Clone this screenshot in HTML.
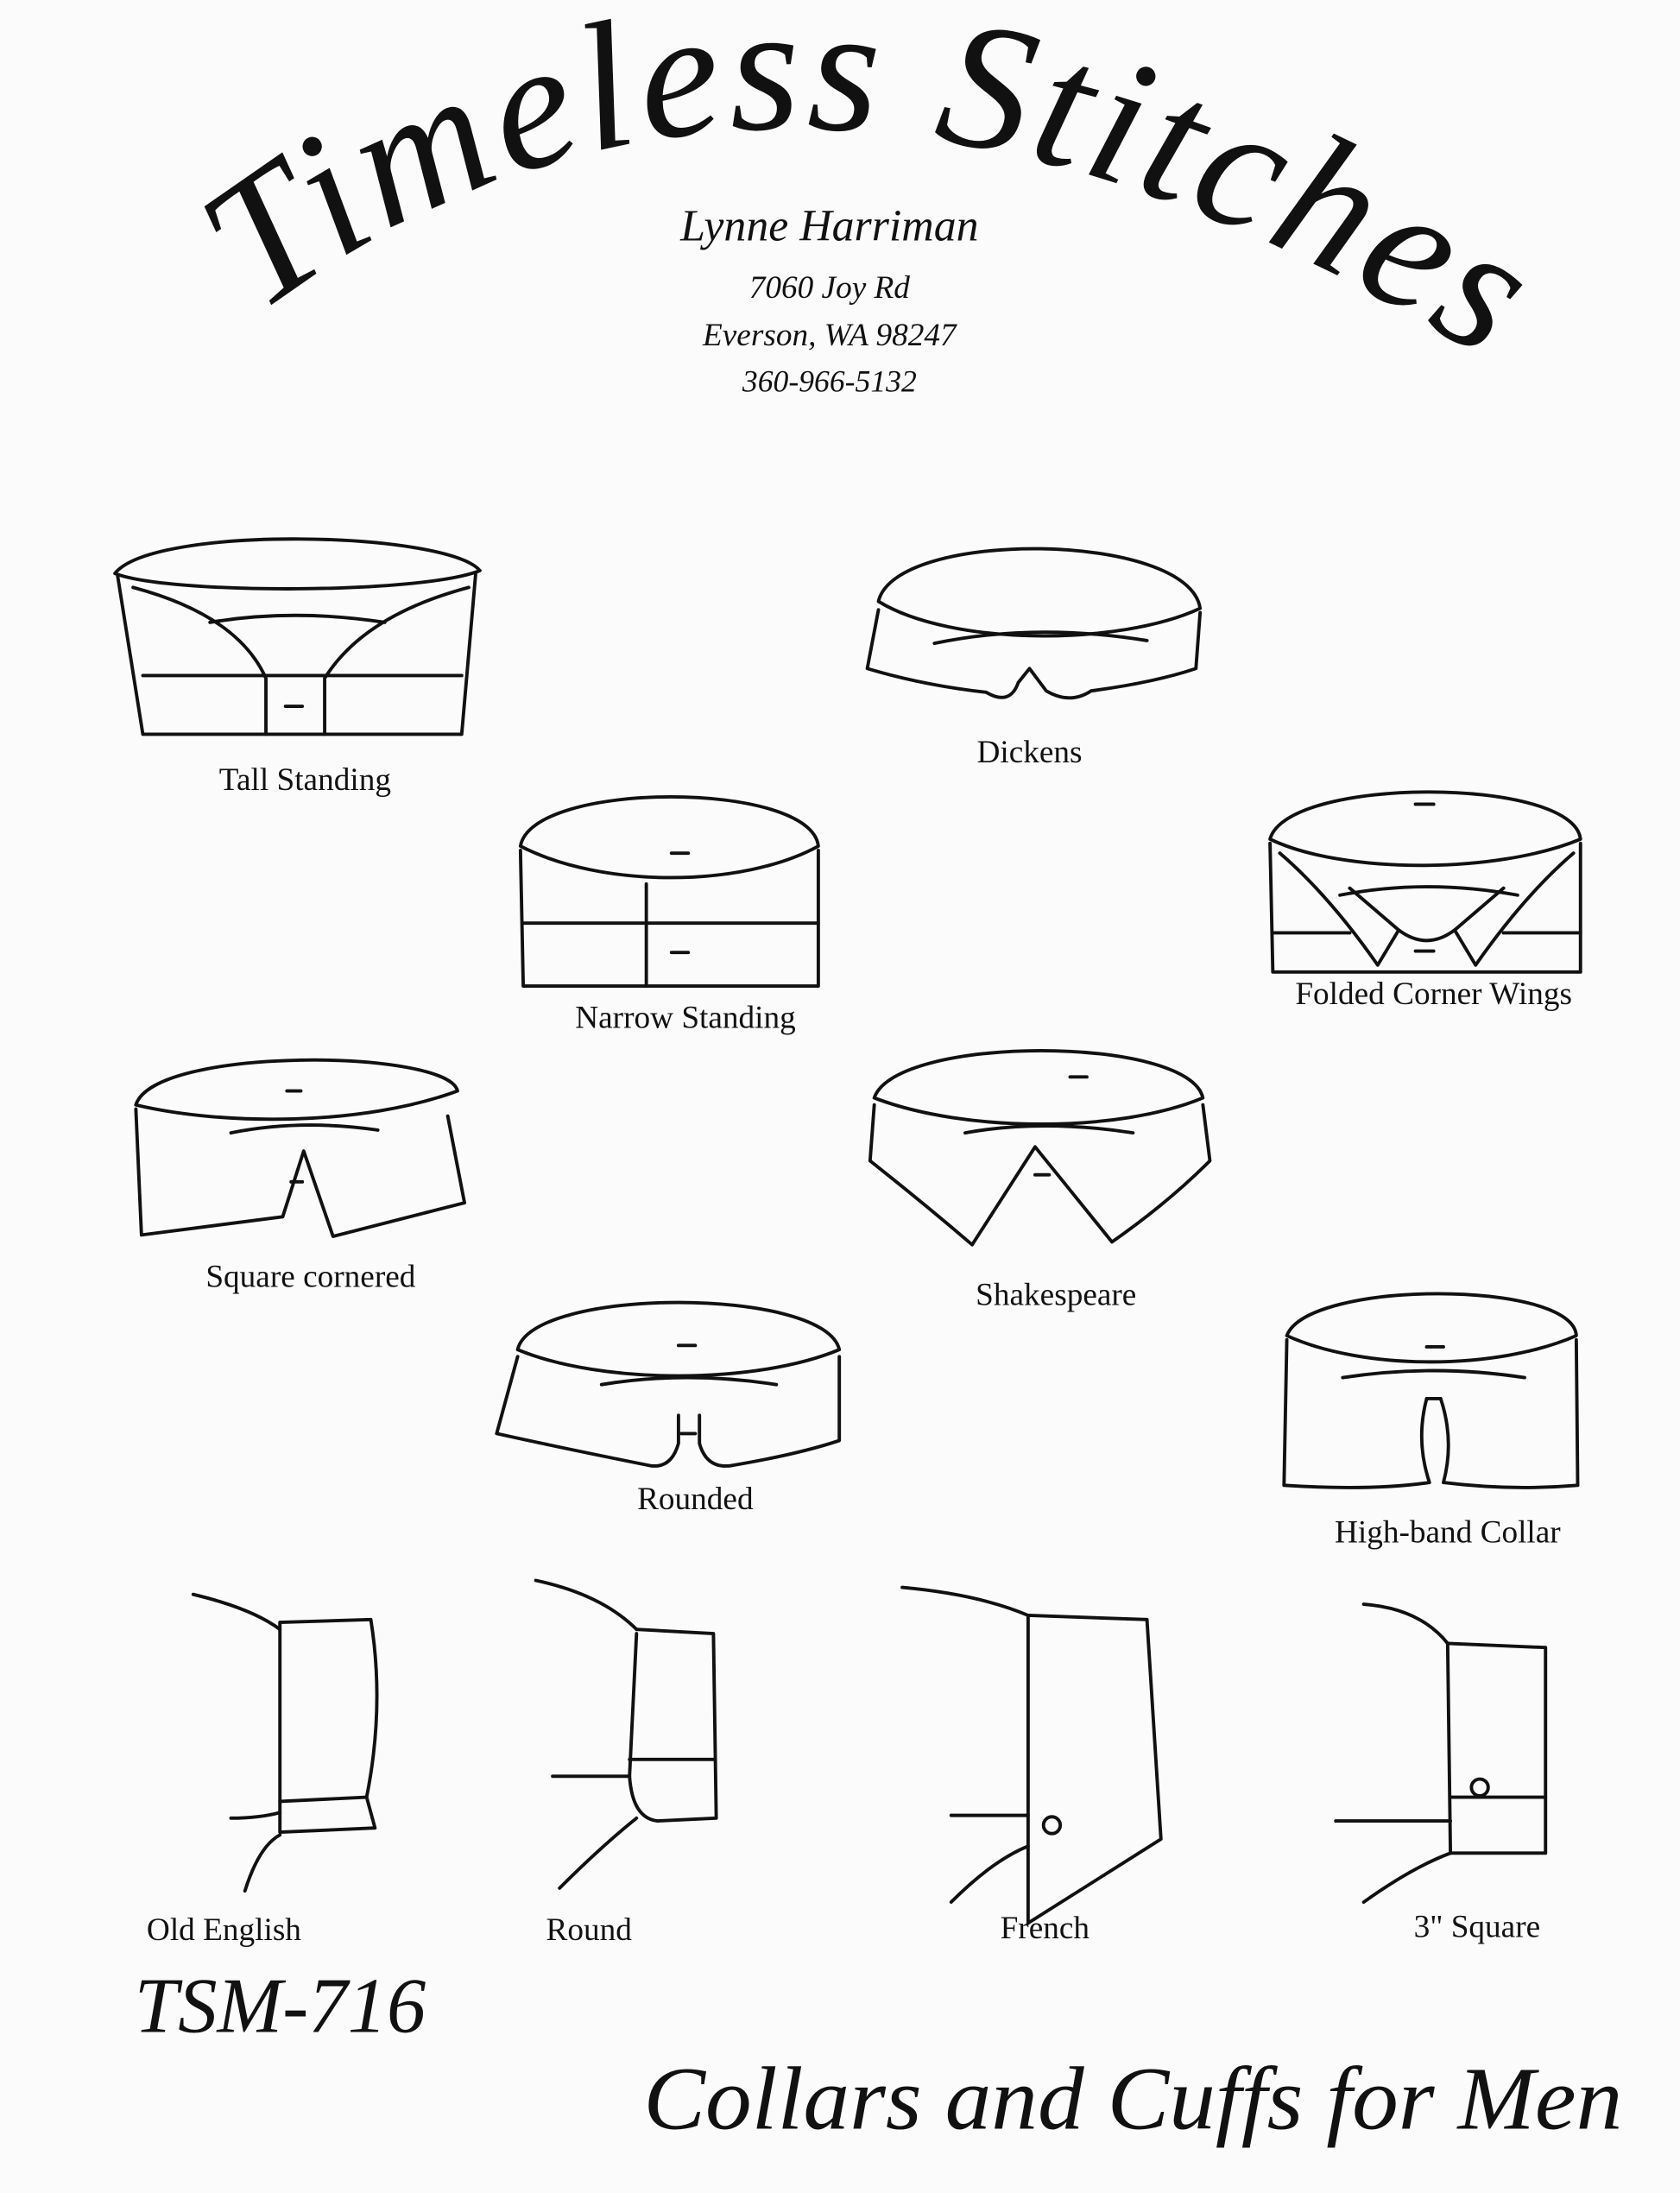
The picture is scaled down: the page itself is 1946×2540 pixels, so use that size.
<!DOCTYPE html>
<html><head><meta charset="utf-8"><style>
html,body{margin:0;padding:0;background:#fbfbfb;}
svg{display:block}
.s{fill:none;stroke:#111;stroke-width:2.4;stroke-linecap:round;stroke-linejoin:round}
.l{font-family:"Liberation Serif",serif;font-size:23px;fill:#111;text-anchor:middle}
.i{font-family:"Liberation Serif",serif;font-style:italic;fill:#111;text-anchor:middle}
</style></head><body>
<svg width="1946" height="2540" viewBox="0 0 1201 1568" xmlns="http://www.w3.org/2000/svg">
<rect width="1201" height="1568" fill="#fbfbfb"/>
<defs><path id="arc" d="M 185 225 Q 560 -60 1075 265"/></defs>
<text class="i" style="font-size:130px;text-anchor:start"><textPath href="#arc" textLength="940" lengthAdjust="spacing">Timeless Stitches</textPath></text>
<text class="i" x="593" y="172" style="font-size:32px">Lynne Harriman</text>
<text class="i" x="593" y="213" style="font-size:23px">7060 Joy Rd</text>
<text class="i" x="593" y="247" style="font-size:23px">Everson, WA 98247</text>
<text class="i" x="593" y="280" style="font-size:22px">360-966-5132</text>

<g class="s">
<!-- Tall Standing -->
<path d="M82 410 C110 375 320 380 343 408 C300 425 120 425 82 410 Z"/>
<path d="M84 412 L102 525 L330 525 L340 410"/>
<path d="M102 483 L330 483"/>
<path d="M150 445 Q210 435 275 445"/>
<path d="M95 420 Q170 440 190 485 L190 525 M335 420 Q260 440 232 485 L232 525"/>
<path d="M204 505 L216 505"/>
<!-- Dickens -->
<path d="M628 430 C640 378 850 380 858 435 C800 462 680 462 628 430 Z"/>
<path d="M628 436 L620 478 Q660 490 705 495 Q722 505 728 488 L736 478 L748 494 Q765 504 780 494 Q825 488 855 478 L858 438"/>
<path d="M668 460 Q740 445 820 458"/>
<!-- Narrow Standing -->
<path d="M372 605 C380 558 580 558 585 605 C530 635 430 635 372 605 Z"/>
<path d="M372 608 L374 705 L585 705 L585 608"/>
<path d="M374 660 L585 660 M462 632 L462 705"/>
<path d="M480 610 L492 610 M480 681 L492 681"/>
<!-- Folded Corner Wings -->
<path d="M908 600 C920 555 1125 555 1130 600 C1070 625 960 625 908 600 Z"/>
<path d="M908 603 L910 695 L1130 695 L1130 603"/>
<path d="M910 667 L965 667 M1075 667 L1130 667"/>
<path d="M958 640 Q1020 628 1085 640"/>
<path d="M915 610 Q950 640 985 690 L1000 665 L965 635 M1125 610 Q1090 640 1055 690 L1040 665 L1075 635"/>
<path d="M1000 665 Q1020 680 1040 665 M1012 680 L1025 680 M1012 575 L1025 575"/>
<!-- Square cornered -->
<path d="M97 790 C110 748 320 750 327 780 C260 805 160 805 97 790 Z"/>
<path d="M97 793 L101 883 L202 870 L217 823 L238 884 L332 860 L320 798"/>
<path d="M165 810 Q215 800 270 808 M205 780 L215 780 M208 845 L216 845"/>
<!-- Shakespeare -->
<path d="M625 785 C640 740 850 740 860 785 C800 810 690 810 625 785 Z"/>
<path d="M625 790 L622 830 Q660 860 695 890 L740 820 L795 888 Q835 860 865 830 L860 790"/>
<path d="M690 810 Q745 800 810 810 M765 770 L777 770 M740 840 L750 840"/>
<!-- Rounded -->
<path d="M370 965 C380 920 590 920 600 965 C540 990 430 990 370 965 Z"/>
<path d="M370 970 L355 1025 Q400 1035 465 1048 Q480 1050 485 1032 L485 1012 M500 1012 L500 1032 Q505 1050 522 1048 Q570 1040 600 1030 L600 970"/>
<path d="M430 990 Q490 980 555 990 M485 962 L497 962 M487 1025 L497 1025"/>
<!-- High-band -->
<path d="M920 955 C935 915 1125 915 1127 955 C1070 980 975 980 920 955 Z"/>
<path d="M920 958 L918 1062 Q980 1066 1022 1060 Q1012 1030 1020 1000 M1030 1000 Q1040 1030 1032 1060 Q1080 1066 1128 1062 L1127 958"/>
<path d="M960 985 Q1025 975 1090 985 M1020 963 L1032 963 M1020 1000 L1030 1000"/>
<!-- Old English -->
<path d="M138 1140 Q180 1150 200 1165"/>
<path d="M200 1160 L265 1158 Q275 1220 262 1285 L268 1307 L200 1310 Z"/>
<path d="M200 1288 L262 1285"/>
<path d="M165 1300 Q185 1300 200 1296 M175 1352 Q185 1320 200 1312"/>
<!-- Round -->
<path d="M383 1130 Q430 1140 455 1165"/>
<path d="M455 1165 L510 1168 L512 1300 L470 1302 Q452 1300 450 1270 L455 1168"/>
<path d="M450 1258 L510 1258 M395 1270 L450 1270 M400 1350 Q430 1320 455 1300"/>
<!-- French -->
<path d="M645 1135 Q700 1140 735 1155"/>
<path d="M735 1155 L820 1158 L830 1315 L735 1375 Z"/>
<path d="M680 1298 L735 1298 M680 1360 Q710 1330 735 1320"/>
<circle cx="752" cy="1305" r="6"/>
<!-- 3" Square -->
<path d="M975 1147 Q1015 1150 1035 1175"/>
<path d="M1035 1175 L1105 1178 L1105 1325 L1037 1325 Z"/>
<path d="M1037 1285 L1105 1285 M955 1302 L1037 1302 M975 1360 Q1010 1335 1037 1325"/>
<circle cx="1058" cy="1278" r="6"/>
</g>

<text class="l" x="218" y="565">Tall Standing</text>
<text class="l" x="736" y="545">Dickens</text>
<text class="l" x="490" y="735">Narrow Standing</text>
<text class="l" x="1025" y="718">Folded Corner Wings</text>
<text class="l" x="222" y="920">Square cornered</text>
<text class="l" x="755" y="933">Shakespeare</text>
<text class="l" x="497" y="1079">Rounded</text>
<text class="l" x="1035" y="1103">High-band Collar</text>
<text class="l" x="160" y="1387">Old English</text>
<text class="l" x="421" y="1387">Round</text>
<text class="l" x="747" y="1386">French</text>
<text class="l" x="1056" y="1385">3" Square</text>
<text class="i" x="96" y="1453" style="font-size:56px;text-anchor:start">TSM-716</text>
<text class="i" x="810" y="1522" style="font-size:64px" textLength="700" lengthAdjust="spacingAndGlyphs">Collars and Cuffs for Men</text>
</svg>
</body></html>
